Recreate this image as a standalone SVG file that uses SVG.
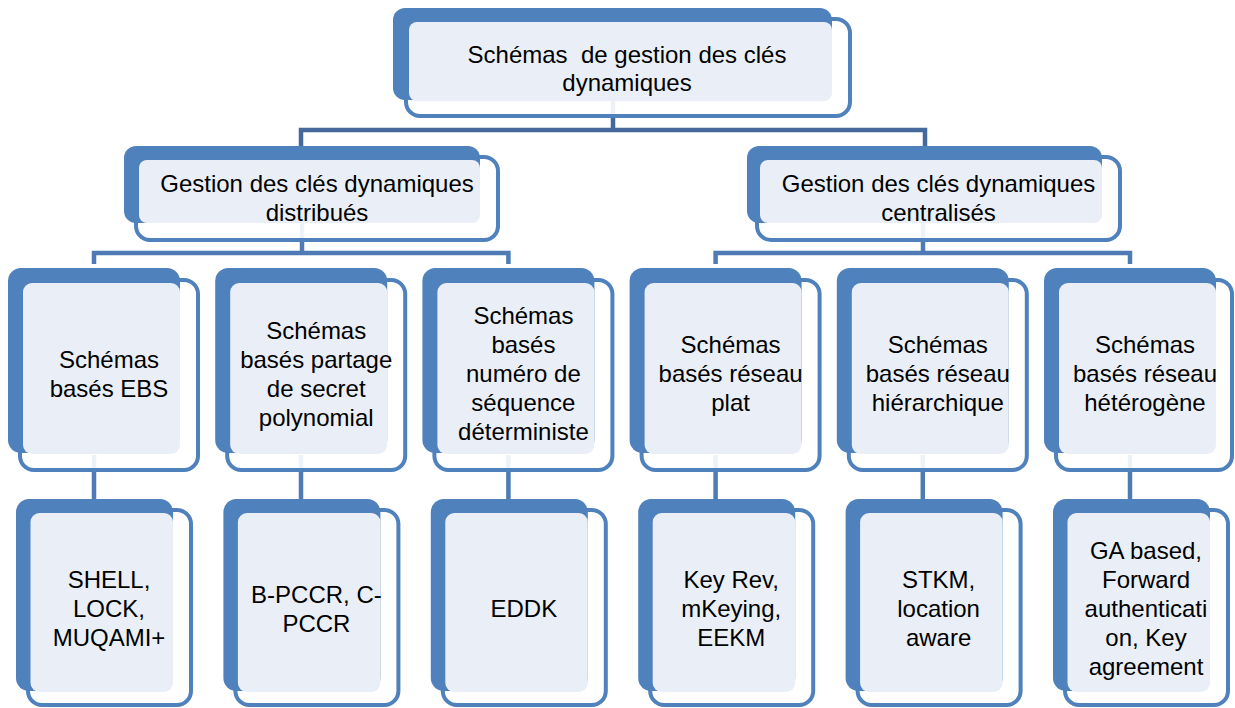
<svg xmlns="http://www.w3.org/2000/svg" width="1235" height="708" viewBox="0 0 1235 708">
<style>
.bk{fill:#4F81BD}
.ol{fill:#FFFFFF;fill-opacity:0.9;stroke:#4F81BD;stroke-width:4}
.lt{fill:#EAEFF7}
.t{font-family:"Liberation Sans",Arial,sans-serif;font-size:24px;fill:#000;text-anchor:middle}
.c{fill:none;stroke:#4E7BB5;stroke-width:4.5}
.c0{fill:none;stroke:#46699D;stroke-width:4.5}
</style>
<rect width="1235" height="708" fill="#FFFFFF"/>
<g id="connectors">
<path class="c0" d="M613 101 V130 M301 146 V130 H925 V146"/>
<path class="c" d="M302 223 V253 M94 264 V253 H508.4 V264"/>
<path class="c" d="M923 223 V253 M715.6 264 V253 H1130 V264"/>
<path class="c" d="M94 455 V500 M301 455 V500 M508.4 455 V500 M715.6 455 V500 M922.8 455 V500 M1130 455 V500"/>
</g>
<g id="n0">
<rect class="ol" x="406" y="19" width="444" height="97" rx="14"/>
<rect class="bk" x="393" y="8" width="439" height="92" rx="12"/>
<rect class="lt" x="409" y="22" width="423" height="79" rx="8"/>
<text class="t" x="627" y="63" xml:space="preserve">Schémas  de gestion des clés</text>
<text class="t" x="627" y="91">dynamiques</text>
</g>
<g id="n1">
<rect class="ol" x="136" y="157" width="362" height="83" rx="14"/>
<rect class="bk" x="124" y="146" width="356" height="77" rx="12"/>
<rect class="lt" x="139" y="160" width="341" height="63" rx="8"/>
<text class="t" x="317" y="192">Gestion des clés dynamiques</text>
<text class="t" x="317" y="221">distribués</text>
</g>
<g id="n2">
<rect class="ol" x="757" y="157" width="363" height="83" rx="14"/>
<rect class="bk" x="747" y="146" width="355" height="77" rx="12"/>
<rect class="lt" x="760" y="160" width="342" height="63" rx="8"/>
<text class="t" x="938.5" y="192">Gestion des clés dynamiques</text>
<text class="t" x="938.5" y="221">centralisés</text>
</g>
<g id="n3">
<rect class="ol" x="20" y="280" width="178" height="190" rx="14"/>
<rect class="bk" x="8" y="268" width="172" height="185" rx="13"/>
<rect class="lt" x="23" y="283" width="157" height="171" rx="9"/>
<text class="t"><tspan x="109" y="367.5">Schémas</tspan><tspan x="109" y="396.5">basés EBS</tspan></text>
</g>
<g id="n4">
<rect class="ol" x="227.2" y="280" width="178" height="190" rx="14"/>
<rect class="bk" x="215.2" y="268" width="172" height="185" rx="13"/>
<rect class="lt" x="230.2" y="283" width="157" height="171" rx="9"/>
<text class="t"><tspan x="316.2" y="338.5">Schémas</tspan><tspan x="316.2" y="367.5">basés partage</tspan><tspan x="316.2" y="396.5">de secret</tspan><tspan x="316.2" y="425.5">polynomial</tspan></text>
</g>
<g id="n5">
<rect class="ol" x="434.4" y="280" width="178" height="190" rx="14"/>
<rect class="bk" x="422.4" y="268" width="172" height="185" rx="13"/>
<rect class="lt" x="437.4" y="283" width="157" height="171" rx="9"/>
<text class="t"><tspan x="523.4" y="324">Schémas</tspan><tspan x="523.4" y="353">basés</tspan><tspan x="523.4" y="382">numéro de</tspan><tspan x="523.4" y="411">séquence</tspan><tspan x="523.4" y="440">déterministe</tspan></text>
</g>
<g id="n6">
<rect class="ol" x="641.6" y="280" width="178" height="190" rx="14"/>
<rect class="bk" x="629.6" y="268" width="172" height="185" rx="13"/>
<rect class="lt" x="644.6" y="283" width="157" height="171" rx="9"/>
<text class="t"><tspan x="730.6" y="353">Schémas</tspan><tspan x="730.6" y="382">basés réseau</tspan><tspan x="730.6" y="411">plat</tspan></text>
</g>
<g id="n7">
<rect class="ol" x="848.8" y="280" width="178" height="190" rx="14"/>
<rect class="bk" x="836.8" y="268" width="172" height="185" rx="13"/>
<rect class="lt" x="851.8" y="283" width="157" height="171" rx="9"/>
<text class="t"><tspan x="937.8" y="353">Schémas</tspan><tspan x="937.8" y="382">basés réseau</tspan><tspan x="937.8" y="411">hiérarchique</tspan></text>
</g>
<g id="n8">
<rect class="ol" x="1056" y="280" width="176" height="190" rx="14"/>
<rect class="bk" x="1044" y="268" width="172" height="185" rx="13"/>
<rect class="lt" x="1059" y="283" width="157" height="171" rx="9"/>
<text class="t"><tspan x="1145" y="353">Schémas</tspan><tspan x="1145" y="382">basés réseau</tspan><tspan x="1145" y="411">hétérogène</tspan></text>
</g>
<g id="n9">
<rect class="ol" x="28" y="510" width="163" height="195" rx="14"/>
<rect class="bk" x="16" y="499" width="157" height="192" rx="13"/>
<rect class="lt" x="30.5" y="513" width="142.5" height="179" rx="9"/>
<text class="t"><tspan x="109" y="588">SHELL,</tspan><tspan x="109" y="617">LOCK,</tspan><tspan x="109" y="646">MUQAMI+</tspan></text>
</g>
<g id="n10">
<rect class="ol" x="235.4" y="510" width="163" height="195" rx="14"/>
<rect class="bk" x="223.4" y="499" width="157" height="192" rx="13"/>
<rect class="lt" x="237.9" y="513" width="142.5" height="179" rx="9"/>
<text class="t"><tspan x="316.4" y="602.5">B-PCCR, C-</tspan><tspan x="316.4" y="631.5">PCCR</tspan></text>
</g>
<g id="n11">
<rect class="ol" x="442.8" y="510" width="163" height="195" rx="14"/>
<rect class="bk" x="430.8" y="499" width="157" height="192" rx="13"/>
<rect class="lt" x="445.3" y="513" width="142.5" height="179" rx="9"/>
<text class="t" x="523.8" y="617">EDDK</text>
</g>
<g id="n12">
<rect class="ol" x="650.2" y="510" width="163" height="195" rx="14"/>
<rect class="bk" x="638.2" y="499" width="157" height="192" rx="13"/>
<rect class="lt" x="652.7" y="513" width="142.5" height="179" rx="9"/>
<text class="t"><tspan x="731.2" y="588">Key Rev,</tspan><tspan x="731.2" y="617">mKeying,</tspan><tspan x="731.2" y="646">EEKM</tspan></text>
</g>
<g id="n13">
<rect class="ol" x="857.6" y="510" width="163" height="195" rx="14"/>
<rect class="bk" x="845.6" y="499" width="157" height="192" rx="13"/>
<rect class="lt" x="860.1" y="513" width="142.5" height="179" rx="9"/>
<text class="t"><tspan x="938.6" y="588">STKM,</tspan><tspan x="938.6" y="617">location</tspan><tspan x="938.6" y="646">aware</tspan></text>
</g>
<g id="n14">
<rect class="ol" x="1065" y="510" width="163" height="195" rx="14"/>
<rect class="bk" x="1053" y="499" width="157" height="192" rx="13"/>
<rect class="lt" x="1067.5" y="513" width="142.5" height="179" rx="9"/>
<text class="t"><tspan x="1146" y="559">GA based,</tspan><tspan x="1146" y="588">Forward</tspan><tspan x="1146" y="617">authenticati</tspan><tspan x="1146" y="646">on, Key</tspan><tspan x="1146" y="675">agreement</tspan></text>
</g>
</svg>
